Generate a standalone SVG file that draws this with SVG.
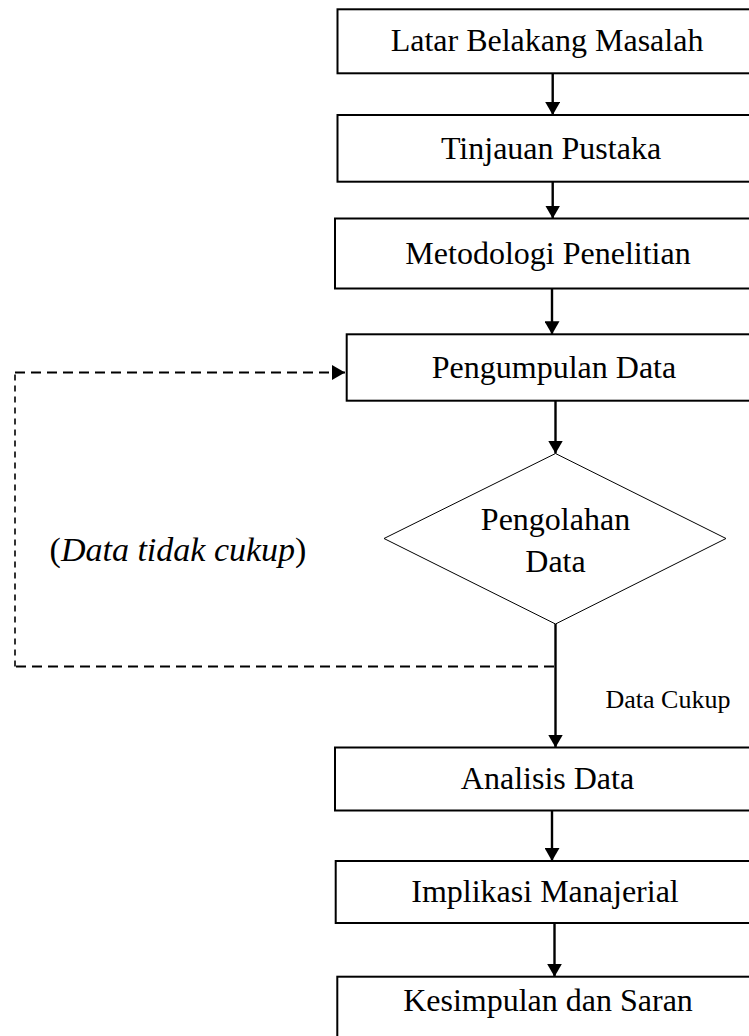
<svg xmlns="http://www.w3.org/2000/svg" width="749" height="1036" viewBox="0 0 749 1036">
<style>
  .box { fill: #fff; stroke: #000; stroke-width: 2; }
  .dia { fill: #fff; stroke: #000; stroke-width: 1; }
  .t { font-family: "Liberation Serif", "Times New Roman", serif; font-size: 32px; fill: #000; text-anchor: middle; }
  .s { font-family: "Liberation Serif", "Times New Roman", serif; font-size: 26px; fill: #000; text-anchor: middle; }
  .c { stroke: #000; stroke-width: 2.4; fill: none; }
  .d { stroke: #000; stroke-width: 2; fill: none; stroke-dasharray: 10 6; }
  .dv { stroke: #000; stroke-width: 1.6; fill: none; stroke-dasharray: 6 5; }
</style>
<defs>
  <marker id="ah" viewBox="0 0 13 15" refX="13" refY="7.5" markerWidth="13" markerHeight="15" markerUnits="userSpaceOnUse" orient="auto">
    <path d="M0,0 L13,7.5 L0,15 Z" fill="#000"/>
  </marker>
</defs>
<rect width="749" height="1036" fill="#fff"/>
<g id="connectors">
  <line class="c" x1="552.7" y1="73.3" x2="552.7" y2="115" marker-end="url(#ah)"/>
  <line class="c" x1="552.7" y1="181.7" x2="552.7" y2="218.5" marker-end="url(#ah)"/>
  <line class="c" x1="552" y1="288.5" x2="552" y2="334.3" marker-end="url(#ah)"/>
  <line class="c" x1="555.5" y1="400.7" x2="555.5" y2="453.5" marker-end="url(#ah)"/>
  <line class="c" x1="555.5" y1="624" x2="555.5" y2="747.5" marker-end="url(#ah)"/>
  <line class="c" x1="552" y1="810.5" x2="552" y2="861" marker-end="url(#ah)"/>
  <line class="c" x1="554.5" y1="923" x2="554.5" y2="976.7" marker-end="url(#ah)"/>
  <line class="d" x1="554" y1="666.5" x2="15" y2="666.5"/>
  <line class="dv" x1="15" y1="666.5" x2="15" y2="373"/>
  <line class="d" x1="15" y1="372.5" x2="345" y2="372.5" marker-end="url(#ah)"/>
  <text class="s" x="668" y="708">Data Cukup</text>
  <text x="178" y="561" font-family="Liberation Serif, Times New Roman, serif" font-size="34" text-anchor="middle">(<tspan font-style="italic">Data tidak cukup</tspan>)</text>
</g>
<g id="n1">
  <rect class="box" x="337.5" y="9.3" width="430" height="64"/>
  <text class="t" x="547" y="51">Latar Belakang Masalah</text>
</g>
<g id="n2">
  <rect class="box" x="337.5" y="115" width="430" height="66.7"/>
  <text class="t" x="551" y="159">Tinjauan Pustaka</text>
</g>
<g id="n3">
  <rect class="box" x="335" y="218.5" width="430" height="70"/>
  <text class="t" x="548" y="264">Metodologi Penelitian</text>
</g>
<g id="n4">
  <rect class="box" x="346.7" y="334.3" width="430" height="66.4"/>
  <text class="t" x="554" y="378">Pengumpulan Data</text>
</g>
<g id="n5">
  <polygon class="dia" points="555.5,453.5 726,538.5 555.5,624 384,538.5"/>
  <text class="t" x="555.5" y="530">Pengolahan</text>
  <text class="t" x="555.5" y="572">Data</text>
</g>
<g id="n6">
  <rect class="box" x="335" y="747.5" width="430" height="63"/>
  <text class="t" x="547.5" y="789">Analisis Data</text>
</g>
<g id="n7">
  <rect class="box" x="335.7" y="861" width="430" height="62"/>
  <text class="t" x="545" y="902">Implikasi Manajerial</text>
</g>
<g id="n8">
  <rect class="box" x="337.3" y="976.7" width="430" height="80"/>
  <text class="t" x="548" y="1011">Kesimpulan dan Saran</text>
</g>
</svg>
